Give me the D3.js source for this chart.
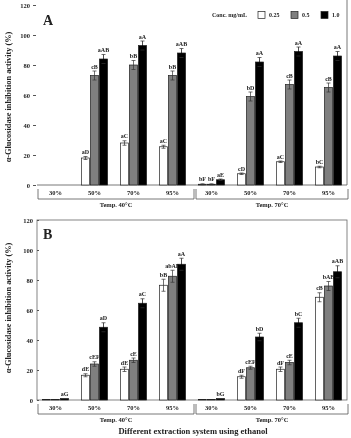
<!DOCTYPE html>
<html>
<head>
<meta charset="utf-8">
<script src="https://cdn.jsdelivr.net/npm/d3@7"></script>
<style>
  body { margin: 0; background: #fff; }
  svg { filter: grayscale(100%); }
  text { font-family: "Liberation Serif", "DejaVu Serif", serif; fill: #222; }
</style>
</head>
<body>
<svg></svg>
<script>
// categories
const groups = ['30%', '50%', '70%', '95%', '30%', '50%', '70%', '95%'];
const temps = ['Temp. 40°C', 'Temp. 70°C'];
const concs = ['0.25', '0.5', '1.0'];
const yTicks = [0, 20, 40, 60, 80, 100, 120];

// panel A values (null = no bar)
const a025 = [null, 18, 28, 25.5, 0.5, 7.5, 15.5, 12];
const a05 = [null, 73, 80, 73, 0.5, 59, 67, 65];
const a10 = [null, 84, 93, 88, 3.5, 82, 89, 86];
const a025Err = [0, 1, 1.5, 1, 0.3, 0.5, 0.5, 0.5];
const a05Err = [0, 3, 3, 3, 0.3, 3, 3, 3];
const a10Err = [0, 3, 3, 3, 0.5, 3, 3, 3];
const a025Lab = ['', 'aD', 'aC', 'aC', 'bF', 'cD', 'aC', 'bC'];
const a05Lab = ['', 'cB', 'bB', 'bB', 'bF', 'bD', 'cB', 'cB'];
const a10Lab = ['', 'aAB', 'aA', 'aAB', 'aE', 'aA', 'aA', 'aA'];

// panel B values
const b025 = [0.3, 16.5, 20.5, 76.5, 0.3, 15.5, 20.5, 68.5];
const b05 = [0.3, 24, 26.5, 82.5, 0.3, 21.5, 25, 76];
const b10 = [1, 48.5, 64.5, 90.5, 1, 42, 51.5, 85.5];
const b025Err = [0, 1, 1.5, 4, 0, 1, 1.5, 3];
const b05Err = [0, 1.5, 1.5, 4, 0, 1, 1.5, 3];
const b10Err = [0, 3, 3, 4, 0, 2.5, 3, 4];
const b025Lab = ['', 'dE', 'dE', 'bB', '', 'dF', 'dF', 'cB'];
const b05Lab = ['', 'cEF', 'cE', 'abAB', '', 'cEF', 'cE', 'bAB'];
const b10Lab = ['aG', 'aD', 'aC', 'aA', 'bG', 'bD', 'bC', 'aAB'];

const width = 351, height = 438;
const svg = d3.select('svg').attr('width', width).attr('height', height);

const fills = { '0.25': '#ffffff', '0.5': '#7f7f7f', '1.0': '#000000' };

const x0 = d3.scaleBand()
  .domain(d3.range(groups.length))
  .range([36, 348])
  .paddingInner(12 / 39)
  .paddingOuter(6 / 39);
const x1 = d3.scaleBand().domain(concs).range([0, x0.bandwidth()]);

const panel = (opt) => {
  const y = d3.scaleLinear().domain([0, 120]).range([opt.bottom, opt.bottom - 180]);
  const g = svg.append('g');

  // frame
  if (opt.box) {
    g.append('rect').attr('x', 37).attr('y', y(120))
      .attr('width', 310).attr('height', y(0) - y(120))
      .attr('fill', 'none').attr('stroke', '#666').attr('stroke-width', 0.8);
  } else {
    g.append('line').attr('x1', 37).attr('x2', 347).attr('y1', y(0)).attr('y2', y(0))
      .attr('stroke', '#555').attr('stroke-width', 0.8);
    g.append('line').attr('x1', 347).attr('x2', 347).attr('y1', 0).attr('y2', y(0))
      .attr('stroke', '#555').attr('stroke-width', 0.8);
  }

  // y ticks
  const yAxis = d3.axisLeft(y).tickValues(yTicks).tickSize(opt.box ? -2 : 3).tickPadding(opt.box ? 4 : 3);
  const yAxisG = g.append('g').attr('transform', `translate(${opt.box ? 37 : 36},0)`).call(yAxis);
  yAxisG.select('.domain').remove();
  yAxisG.selectAll('line').attr('stroke', '#555');
  yAxisG.selectAll('text').attr('font-size', 6.5).attr('font-weight', 'bold')
    .attr('font-family', '"Liberation Serif", serif').attr('fill', '#333');

  // y title
  g.append('text')
    .attr('transform', `translate(11,${opt.titleY}) rotate(-90)`)
    .attr('text-anchor', 'middle')
    .attr('font-size', 8.3).attr('font-weight', 'bold')
    .text('α-Glucosidase inhibition activity (%)');

  // panel letter
  g.append('text').attr('x', 43).attr('y', opt.letterY)
    .attr('font-size', 14).attr('font-weight', 'bold').text(opt.letter);

  // bars
  const rows = groups.map((grp, i) => concs.map((c, k) => ({
    i, c,
    v: opt.vals[k][i],
    e: opt.errs[k][i],
    lab: opt.labs[k][i]
  })));

  const gg = g.selectAll('.grp').data(rows).join('g')
    .attr('transform', (d, i) => `translate(${x0(i)},0)`);

  const cell = gg.selectAll('g').data(d => d.filter(r => r.v !== null)).join('g');

  cell.append('rect')
    .attr('x', d => x1(d.c) + 0.4)
    .attr('y', d => y(d.v))
    .attr('width', x1.bandwidth() - 0.8)
    .attr('height', d => y(0) - y(d.v))
    .attr('fill', d => fills[d.c])
    .attr('stroke', '#222').attr('stroke-width', 0.7);

  const eb = cell.filter(d => d.e > 0);
  const cx = d => x1(d.c) + x1.bandwidth() / 2;
  eb.append('line')
    .attr('x1', cx).attr('x2', cx)
    .attr('y1', d => y(d.v + d.e)).attr('y2', d => y(Math.max(0, d.v - d.e)))
    .attr('stroke', d => d.c === '1.0' ? '#000' : '#333').attr('stroke-width', 0.7);
  [1, -1].forEach(s => {
    eb.append('line')
      .attr('x1', d => cx(d) - 2).attr('x2', d => cx(d) + 2)
      .attr('y1', d => y(Math.max(0, d.v + s * d.e))).attr('y2', d => y(Math.max(0, d.v + s * d.e)))
      .attr('stroke', '#333').attr('stroke-width', 0.7);
  });

  cell.filter(d => d.lab).append('text')
    .attr('x', cx)
    .attr('y', d => y(d.v + d.e) - 2.5)
    .attr('text-anchor', 'middle')
    .attr('font-size', 6).attr('font-weight', 'bold').attr('fill', '#333')
    .text(d => d.lab);

  // category labels
  g.selectAll('.cat').data(groups).join('text')
    .attr('x', (d, i) => x0(i) + x0.bandwidth() / 2)
    .attr('y', y(0) + 10)
    .attr('text-anchor', 'middle')
    .attr('font-size', 6.5).attr('font-weight', 'bold').attr('fill', '#333')
    .text(d => d);

  // brackets + temp labels
  const brackets = [[38, 194], [196, 348]];
  brackets.forEach((b, k) => {
    const top = y(0) + 4, bot = y(0) + 14;
    g.append('path')
      .attr('d', `M${b[0]},${top}V${bot}H${b[1]}V${top}`)
      .attr('fill', 'none').attr('stroke', '#555').attr('stroke-width', 0.8);
    g.append('text')
      .attr('x', (b[0] + b[1]) / 2).attr('y', bot + 8)
      .attr('text-anchor', 'middle')
      .attr('font-size', 6.5).attr('font-weight', 'bold').attr('fill', '#333')
      .text(temps[k]);
  });
};

panel({
  bottom: 185, box: false, letter: 'A', letterY: 25, titleY: 97,
  vals: [a025, a05, a10], errs: [a025Err, a05Err, a10Err], labs: [a025Lab, a05Lab, a10Lab]
});
panel({
  bottom: 400, box: true, letter: 'B', letterY: 239, titleY: 308,
  vals: [b025, b05, b10], errs: [b025Err, b05Err, b10Err], labs: [b025Lab, b05Lab, b10Lab]
});

// legend
const lg = svg.append('g').attr('transform', 'translate(0,15)');
lg.append('text').attr('x', 212).attr('y', 2.2)
  .attr('font-size', 6).attr('font-weight', 'bold').text('Conc. mg/mL');
const legX = [258, 291, 321];
concs.forEach((c, k) => {
  lg.append('rect').attr('x', legX[k]).attr('y', -3.5).attr('width', 7).attr('height', 7)
    .attr('fill', fills[c]).attr('stroke', '#222').attr('stroke-width', 0.7);
  lg.append('text').attr('x', legX[k] + 11).attr('y', 2.2)
    .attr('font-size', 6).attr('font-weight', 'bold').text(c);
});

// x title
svg.append('text')
  .attr('x', 193).attr('y', 434)
  .attr('text-anchor', 'middle')
  .attr('font-size', 8.5).attr('font-weight', 'bold')
  .text('Different extraction system using ethanol');
</script>
</body>
</html>
